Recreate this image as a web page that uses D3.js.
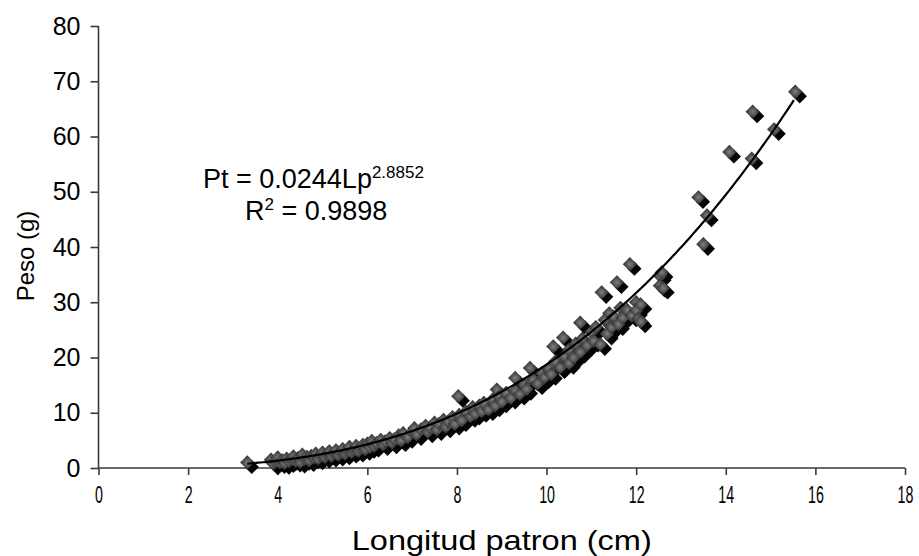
<!DOCTYPE html>
<html>
<head>
<meta charset="utf-8">
<script src="https://cdn.jsdelivr.net/npm/d3@7"></script>
<style>
  body { margin: 0; background: #fff; }
  svg text { font-family: "Liberation Sans", Arial, sans-serif; fill: #000; }
</style>
</head>
<body>
<svg id="chart" width="919" height="556"></svg>
<script>
// longitud patron (cm) and peso (g)
var longitud = [3.32, 3.85, 3.9, 3.95, 4.0, 4.05, 4.1, 4.15, 4.2, 4.25, 4.3, 4.35, 4.4, 4.45, 4.5, 4.55, 4.6, 4.65, 4.7, 4.75,
  4.8, 4.85, 4.9, 4.95, 5.0, 5.05, 5.1, 5.15, 5.2, 5.25, 5.3, 5.35, 5.4, 5.45, 5.5, 5.55, 5.6, 5.65, 5.7, 5.75,
  5.8, 5.85, 5.9, 5.95, 6.0, 6.05, 6.1, 6.15, 6.2, 6.3, 6.35, 6.4, 6.5, 6.55, 6.6, 6.7, 6.75, 6.8, 6.9, 7.0,
  7.05, 7.1, 7.2, 7.3, 7.35, 7.4, 7.5, 7.55, 7.6, 7.7, 7.75, 7.8, 7.9, 7.95, 8.03, 8.05, 8.1, 8.2, 8.3, 8.35,
  8.4, 8.5, 8.55, 8.6, 8.7, 8.8, 8.85, 8.89, 8.95, 9.0, 9.1, 9.2, 9.3, 9.3, 9.4, 9.5, 9.55, 9.63, 9.7, 9.8,
  9.9, 9.95, 10.05, 10.15, 10.1, 10.2, 10.3, 10.37, 10.4, 10.5, 10.5, 10.6, 10.65, 10.75, 10.75, 10.8, 10.9, 11.0, 11.05, 11.1,
  11.2, 11.23, 11.3, 11.35, 11.4, 11.45, 11.5, 11.57, 11.6, 11.65, 11.7, 11.8, 11.86, 11.9, 12.0, 12.0, 12.05, 12.1, 12.1, 12.53,
  12.53, 12.57, 12.6, 13.39, 13.5, 13.58, 14.08, 14.58, 14.6, 15.08, 15.55];
var peso = [1.0, 1.5, 0.8, 1.2, 1.9, 1.0, 1.4, 0.9, 1.7, 1.2, 1.5, 2.1, 1.3, 1.8, 1.1, 2.4, 1.6, 2.0, 1.4, 2.2,
  1.9, 2.6, 1.7, 2.3, 2.8, 2.0, 2.5, 3.0, 2.2, 2.7, 3.2, 2.4, 2.9, 3.4, 2.6, 3.1, 3.8, 2.9, 3.3, 4.0,
  3.1, 3.6, 4.2, 3.4, 4.4, 3.8, 4.9, 4.0, 4.5, 5.1, 4.3, 4.8, 5.4, 4.6, 5.2, 5.9, 5.0, 6.3, 5.6, 6.5,
  7.2, 6.1, 7.0, 7.6, 6.6, 7.3, 8.2, 7.0, 8.0, 8.7, 7.5, 8.4, 9.2, 8.0, 13.0, 9.6, 8.6, 10.2, 9.4, 11.0,
  9.8, 11.3, 10.3, 11.8, 10.6, 12.4, 11.3, 14.2, 12.9, 12.0, 13.6, 12.7, 16.3, 14.0, 13.4, 15.1, 14.3, 18.1, 16.0, 15.3,
  17.2, 16.4, 18.0, 22.0, 17.0, 19.3, 18.2, 23.6, 20.2, 19.0, 21.4, 20.0, 22.5, 26.3, 21.0, 23.4, 22.2, 24.6, 23.0, 25.5,
  22.4, 31.8, 26.8, 24.3, 28.0, 25.5, 27.4, 33.6, 26.0, 29.0, 27.2, 28.6, 36.9, 27.6, 30.0, 28.5, 27.0, 26.5, 29.6, 34.8,
  33.0, 35.4, 32.6, 49.0, 40.5, 45.7, 57.2, 56.0, 64.5, 61.3, 68.1];

var xTicks = [0, 2, 4, 6, 8, 10, 12, 14, 16, 18];
var yTicks = [0, 10, 20, 30, 40, 50, 60, 70, 80];

// potential fit Pt = a * Lp^b
var fitA = 0.0244, fitB = 2.8852;

var svg = d3.select("#chart");
var margin = {left: 98.5, right: 14, top: 26, bottom: 88};
var width = 919 - margin.left - margin.right,
    height = 556 - margin.top - margin.bottom;

var x = d3.scaleLinear().domain([0, 18]).range([0, width]);
var y = d3.scaleLinear().domain([0, 80]).range([height, 0]);

var g = svg.append("g").attr("transform", "translate(" + margin.left + "," + margin.top + ")");

// axes
var yAxis = g.append("g")
  .call(d3.axisLeft(y).tickValues(yTicks).tickSize(8).tickPadding(10));
yAxis.selectAll("text").style("font-size", "25px");

var xAxis = g.append("g")
  .attr("transform", "translate(0," + height + ")")
  .call(d3.axisBottom(x).tickValues(xTicks).tickSize(7).tickPadding(12));
xAxis.selectAll("text")
  .style("font-size", "23px")
  .attr("transform", "scale(0.62,1)");

g.selectAll(".domain, .tick line").attr("stroke", "#3a3a3a").attr("stroke-width", 1.6);
g.selectAll(".domain").attr("d", function() {
  return d3.select(this.parentNode).attr("transform") ? "M0,0H" + width : "M0,0V" + height;
});

// markers: gray diamond with a dark shadow
var defs = svg.append("defs");
var grad = defs.append("radialGradient").attr("id", "dia");
grad.append("stop").attr("offset", "0%").attr("stop-color", "#808080");
grad.append("stop").attr("offset", "100%").attr("stop-color", "#2a2a2a");

var pts = longitud.map(function(d, i) { return [d, peso[i]]; });
var diamond = d3.symbol().type(d3.symbolDiamond2).size(130);

g.append("g").selectAll("path")
  .data(pts)
  .enter().append("path")
  .attr("d", diamond)
  .attr("transform", function(d) { return "translate(" + (x(d[0]) + 4.5) + "," + (y(d[1]) + 4.5) + ")"; })
  .attr("fill", "#050505");

g.append("g").selectAll("path")
  .data(pts)
  .enter().append("path")
  .attr("d", diamond)
  .attr("transform", function(d) { return "translate(" + x(d[0]) + "," + y(d[1]) + ")"; })
  .attr("fill", "url(#dia)");

// trend line
var xs = d3.range(3.32, 15.56, 0.05);
g.append("path")
  .datum(xs)
  .attr("fill", "none")
  .attr("stroke", "#000")
  .attr("stroke-width", 2.2)
  .attr("d", d3.line()
    .x(function(d) { return x(d); })
    .y(function(d) { return y(fitA * Math.pow(d, fitB)); }));

// equation
var eq = svg.append("text").attr("x", 203).attr("y", 188).style("font-size", "27px");
eq.append("tspan").text("Pt = 0.0244Lp");
eq.append("tspan").attr("dy", -10).style("font-size", "17px").text("2.8852");

var r2 = svg.append("text").attr("x", 245).attr("y", 220).style("font-size", "27px");
r2.append("tspan").text("R");
r2.append("tspan").attr("dy", -10).style("font-size", "17px").text("2");
r2.append("tspan").attr("dy", 10).text(" = 0.9898");

// axis titles
svg.append("text")
  .attr("x", margin.left + width / 2)
  .attr("y", 550)
  .attr("text-anchor", "middle")
  .attr("textLength", 300)
  .attr("lengthAdjust", "spacingAndGlyphs")
  .style("font-size", "28px")
  .text("Longitud patron (cm)");

svg.append("text")
  .attr("transform", "translate(34,256) rotate(-90)")
  .attr("text-anchor", "middle")
  .style("font-size", "24px")
  .text("Peso (g)");
</script>
</body>
</html>
